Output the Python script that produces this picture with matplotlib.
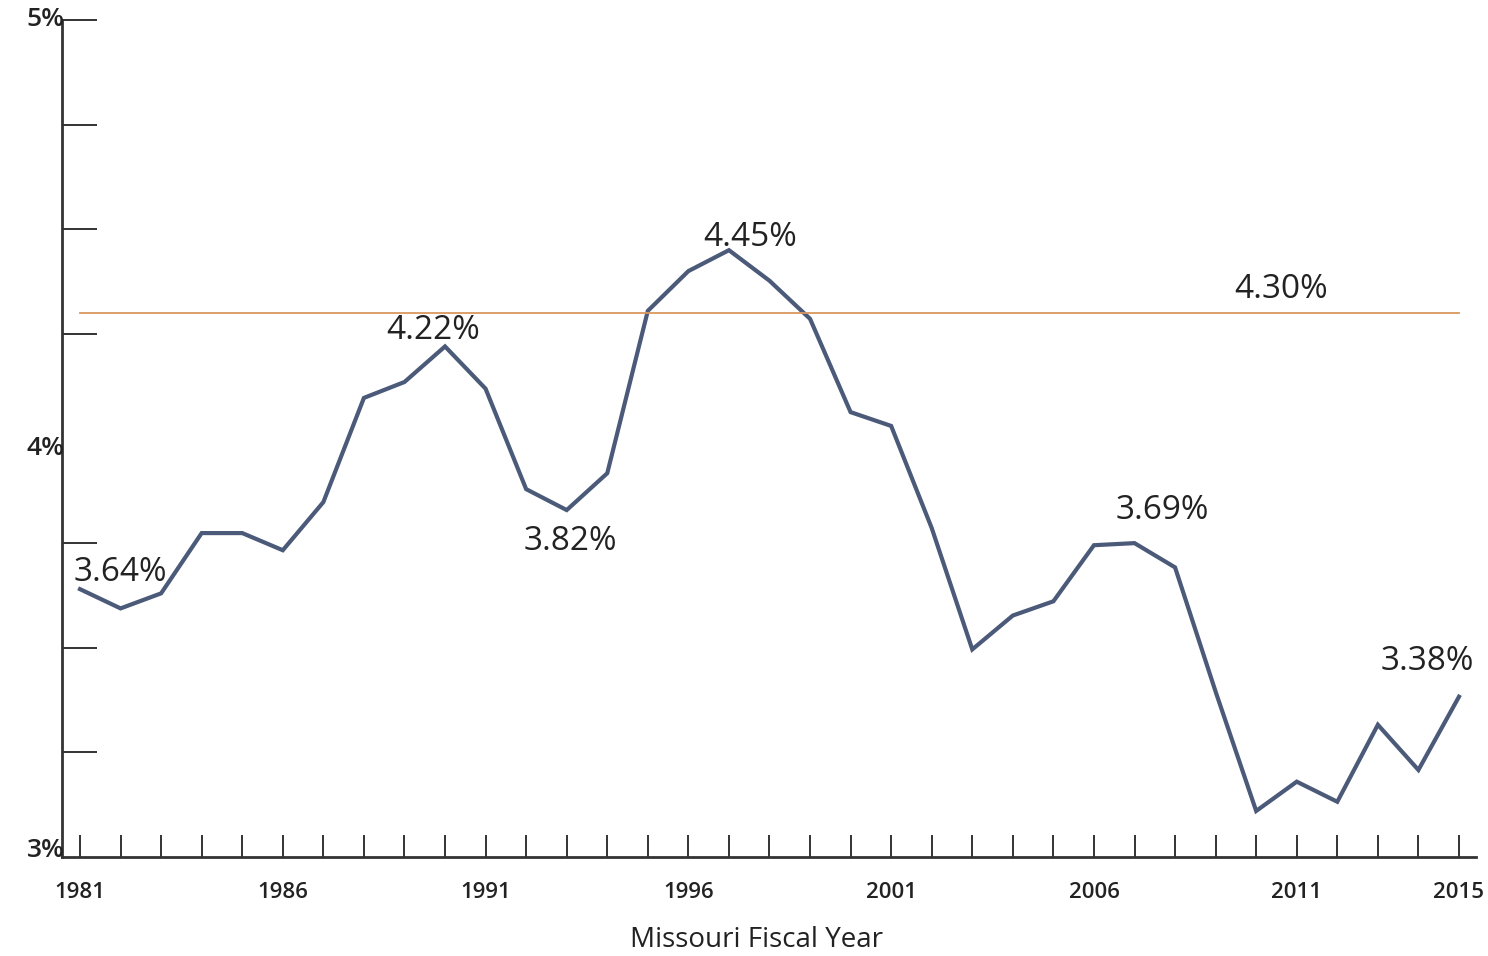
import matplotlib.pyplot as plt
import matplotlib.transforms as mtransforms

plt.rcParams['font.family'] = ['Open Sans', 'DejaVu Sans']

# data
years = list(range(1981, 2016))
rates = [3.64, 3.594, 3.63, 3.774, 3.774, 3.733, 3.848, 4.097, 4.135, 4.22,
         4.119, 3.879, 3.829, 3.917, 4.305, 4.40, 4.45, 4.377, 4.286, 4.063,
         4.03, 3.786, 3.496, 3.577, 3.611, 3.745, 3.75, 3.692, 3.395, 3.11,
         3.18, 3.132, 3.316, 3.208, 3.383]
average = 4.30

# (text, x, y) callouts
callouts = [
    ('3.64%', 1981.99, 3.681),
    ('4.22%', 1989.70, 4.257),
    ('3.82%', 1993.10, 3.753),
    ('4.45%', 1997.52, 4.481),
    ('4.30%', 2010.61, 4.357),
    ('3.69%', 2007.68, 3.829),
    ('3.38%', 2014.21, 3.466),
]

xtick_labels = [1981, 1986, 1991, 1996, 2001, 2006, 2011, 2015]
ytick_vals = [3, 4, 5]
ytick_labels = ['3%', '4%', '5%']
yminor = [3.25, 3.5, 3.75, 4.25, 4.5, 4.75, 5.0]

line_color = '#4b5a78'
avg_color = '#d9975e'
axis_color = '#333333'

fig = plt.figure(figsize=(14.88, 9.56), dpi=100)
ax = fig.add_axes([62 / 1488, 99 / 956, 1414 / 1488, 837 / 956])

ax.plot(years, rates, color=line_color, linewidth=3.0, solid_joinstyle='miter')
ax.plot([years[0], years[-1]], [average, average], color=avg_color, linewidth=1.3)

for txt, x, y in callouts:
    ax.text(x, y, txt, ha='center', va='center', fontsize=24, color='#222222')

ax.set_xlim(1980.556, 2015.42)
ax.set_ylim(3, 5)

ax.spines['top'].set_visible(False)
ax.spines['right'].set_visible(False)
for s in ('left', 'bottom'):
    ax.spines[s].set_color(axis_color)
    ax.spines[s].set_linewidth(2.0)

ax.set_xticks(years)
ax.set_xticklabels([str(y) if y in xtick_labels else '' for y in years],
                   fontsize=16, fontweight='semibold', color='#222222')
ax.tick_params(axis='x', direction='in', length=16, width=1.4, color=axis_color, pad=18)

ax.set_yticks(yminor)
ax.set_yticklabels([])
ax.tick_params(axis='y', direction='in', length=25, width=1.4, color=axis_color)

# y labels sit just left of the spine
offsets = {3: 5, 4: -7, 5: 0}
for v, lab in zip(ytick_vals, ytick_labels):
    tr = ax.get_yaxis_transform() + mtransforms.ScaledTranslation(2 / 72, offsets[v] / 72, fig.dpi_scale_trans)
    ax.text(0, v, lab, transform=tr, ha='right', va='center', fontsize=19,
            fontweight='semibold', color='#222222')

ax.set_xlabel('Missouri Fiscal Year', fontsize=20, color='#222222')
ax.xaxis.set_label_coords(0.4915, -0.082)

fig.savefig('out.png', dpi=100)
